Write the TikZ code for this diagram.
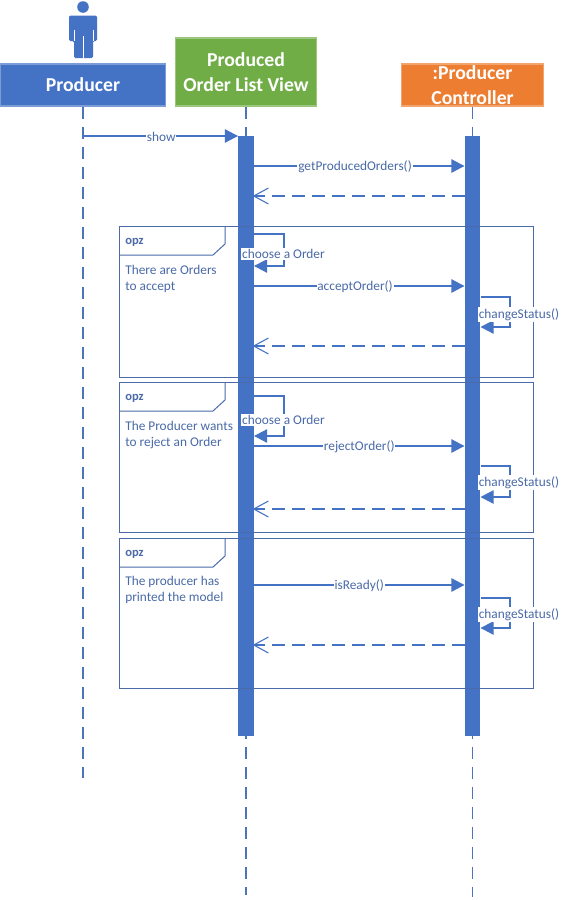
\documentclass[tikz,border=0pt]{standalone}
\usepackage{fontspec}
\setmainfont{Carlito}
\usetikzlibrary{arrows.meta,calc}
\definecolor{uiblue}{HTML}{4472C4}
\definecolor{uibluedark}{HTML}{4A6AA8}
\definecolor{uigreen}{HTML}{70AD47}
\definecolor{uiorange}{HTML}{ED7D31}
\tikzset{
  hdr/.style={draw=#1!70!white,line width=0.9pt,fill=#1,text=white,font=\fontsize{14.8}{18.4}\selectfont\bfseries,align=center,inner sep=0pt},
  lifeline/.style={uiblue!85!gray,line width=1pt,dash pattern=on 9.5pt off 5.5pt},
  bar/.style={fill=uiblue,draw=none,minimum width=11.6pt,minimum height=450pt,inner sep=0pt},
  msg/.style={uiblue,line width=1pt,-{Triangle[length=9.8pt,width=10pt]}},
  ret/.style={uiblue,line width=1pt,dash pattern=on 9.5pt off 5.5pt,shorten >=-1pt,-{Straight Barb[length=11pt,width=12pt,line width=.8pt]}},
  lbl/.style={fill=white,text=uibluedark,font=\fontsize{10}{11}\selectfont,inner xsep=.6pt,inner ysep=1pt,yshift=-.4pt},
  frm/.style={draw=uibluedark,line width=.75pt,fill=none},
  ftxt/.style={text=uibluedark,font=\fontsize{10}{12.6}\selectfont,align=left,anchor=north west,inner sep=0pt},
  opzt/.style={text=uibluedark,font=\fontsize{9.4}{11}\selectfont\bfseries,anchor=west,inner sep=0pt},
}
\begin{document}
\begin{tikzpicture}[x=0.75pt,y=-0.75pt]
\useasboundingbox[fill=white] (0,0) rectangle (567,900);
% headers
\node[hdr=uiblue,minimum width=123.5pt,minimum height=31.5pt] (producer) at (83,85) {Producer};
\node[hdr=uigreen,minimum width=105.5pt,minimum height=51pt] (view) at (246,72) {Produced\\Order List View};
\node[hdr=uiorange,minimum width=106pt,minimum height=31.5pt] (ctrl) at (472.5,85) {:Producer\\Controller};
% actor
\fill[uiblue] (83,7) circle[radius=5.8];
\fill[uiblue,rounded corners=1pt] (69,41) -- (69,15.5) -- (97,15.5) -- (97,41) -- (93,41) -- (93,58) -- (74,58) -- (74,41) -- cycle;
\draw[white,line width=.4pt] (83,36) -- (83,58) (74,30) -- (74,41) (93,30) -- (93,41);
% lifelines
\coordinate (pEnd) at (83,778);
\coordinate (vEnd) at (246,895);
\coordinate (cEnd) at (472.5,897);
\draw[lifeline] (producer.south) -- (pEnd);
\draw[lifeline] (view.south) -- (vEnd);
\draw[lifeline] (ctrl.south) -- (cEnd);
% activation bars
\node[bar] (vbar) at (246,436) {};
\node[bar] (cbar) at (472.5,436) {};
% frames
\foreach \n/\t/\b in {1/226/377,2/382/532,3/538/688}{
  \node[frm,anchor=north west,minimum width=310.5pt,minimum height={(\b-\t)*0.75pt},inner sep=0pt] (frame\n) at (119,\t) {};
  \draw[frm] (119,\t+29) -- (213,\t+29) -- (225,\t+18) -- (225,\t);
  \node[opzt] (opz\n) at (125,\t+16) {opz};
}
\node[ftxt] (g1) at (125,264.5) {There are Orders\\[-.5pt]to accept};
\node[ftxt] (g2) at (125,420.5) {The Producer wants\\[-.5pt]to reject an Order};
\node[ftxt] (g3) at (125,575.5) {The producer has\\[-.5pt]printed the model};
% show
\coordinate (pShow) at (83,136);
\draw[msg] (pShow) -- node[lbl,pos=.505] {show} (vbar.west |- pShow);
% get
\coordinate (m1) at (vbar.east |- 0,166);
\draw[msg] (m1) -- node[lbl,pos=.48] {getProducedOrders()} (cbar.west |- m1);
\coordinate (r1) at (cbar.west |- 0,196);
\draw[ret] (r1) -- (vbar.east |- r1);
% frame 1
\coordinate (s1) at (vbar.east |- 0,234);
\coordinate (s1e) at (vbar.east |- 0,266);
\draw[msg] (s1) -- (284,234) -- (284,266) -- (s1e);
\node[lbl] (l1) at (283.5,253) {choose a Order};
\coordinate (m2) at (vbar.east |- 0,286);
\draw[msg] (m2) -- node[lbl,pos=.48] {acceptOrder()} (cbar.west |- m2);
\coordinate (c1) at (cbar.east |- 0,297);
\coordinate (c1e) at (cbar.east |- 0,327);
\draw[msg] (c1) -- (510,297) -- (510,327) -- (c1e);
\node[lbl] (l2) at (519,314) {changeStatus()};
\coordinate (r2) at (cbar.west |- 0,346);
\draw[ret] (r2) -- (vbar.east |- r2);
% frame 2
\coordinate (s2) at (vbar.east |- 0,396);
\coordinate (s2e) at (vbar.east |- 0,436);
\draw[msg] (s2) -- (284,396) -- (284,436) -- (s2e);
\node[lbl] (l3) at (283.5,419) {choose a Order};
\coordinate (m3) at (vbar.east |- 0,446);
\draw[msg] (m3) -- node[lbl] {rejectOrder()} (cbar.west |- m3);
\coordinate (c2) at (cbar.east |- 0,466);
\coordinate (c2e) at (cbar.east |- 0,497);
\draw[msg] (c2) -- (510,466) -- (510,497) -- (c2e);
\node[lbl] (l4) at (519,482) {changeStatus()};
\coordinate (r3) at (cbar.west |- 0,509);
\draw[ret] (r3) -- (vbar.east |- r3);
% frame 3
\coordinate (m4) at (vbar.east |- 0,585);
\draw[msg] (m4) -- node[lbl] {isReady()} (cbar.west |- m4);
\coordinate (c3) at (cbar.east |- 0,598);
\coordinate (c3e) at (cbar.east |- 0,628);
\draw[msg] (c3) -- (510,598) -- (510,628) -- (c3e);
\node[lbl] (l5) at (519,614) {changeStatus()};
\coordinate (r4) at (cbar.west |- 0,645);
\draw[ret] (r4) -- (vbar.east |- r4);
\end{tikzpicture}
\end{document}
